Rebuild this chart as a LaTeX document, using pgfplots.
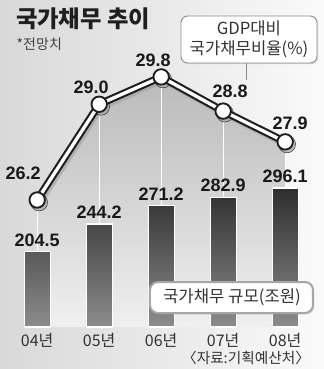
\documentclass[border=0pt]{standalone}
\usepackage{fontspec}
\setmainfont{Noto Sans CJK KR}
\newfontfamily\numfont{Liberation Sans}
\usepackage{pgfplots}
\usepackage{pgfplotstable}
\pgfplotsset{compat=1.18}
\usetikzlibrary{shadows}

\pgfplotstableread{
x v
0 204.5
1 244.2
2 271.2
3 282.9
4 296.1
}\debt

\pgfplotstableread{
x r dx dy
0 26.2 -10.5 20
1 29.0 -6 12.75
2 29.8 -6 12.75
3 28.8 5.25 15
4 27.9 3.75 14.25
}\ratio

\pgfplotsset{lineaxis/.style={at={(0,0)}, anchor=north west, scale only axis,
  width=243pt, height=245.25pt,
  xmin=-0.6, xmax=4.626, ymin=22.484, ymax=32.05,
  axis lines=none,
  /pgf/number format/fixed, /pgf/number format/fixed zerofill,
  /pgf/number format/precision=1, /pgf/number format/assume math mode=true}}

\begin{document}
\begin{tikzpicture}
\fill[left color=black!15, right color=black!2] (0,0) rectangle (243pt,-276.75pt);
\path[use as bounding box] (0,0) rectangle (243pt,-276.75pt);

\begin{axis}[lineaxis]
\addplot[top color=black!27, bottom color=black!6, draw=none]
  table[x=x,y=r]{\ratio} -- (axis cs:4,22.484) -- (axis cs:0,22.484) -- cycle;
\addplot[ycomb, draw=white, line width=0.9pt] table[x=x,y=r]{\ratio};
\end{axis}

% shadow of the line
\begin{axis}[lineaxis, at={(1.4pt,-1.8pt)}]
\addplot[draw=black!35, line width=5.6pt, line join=round, opacity=0.7] table[x=x,y=r]{\ratio};
\addplot[only marks, mark=*, mark size=6.4pt, mark options={fill=black!35, draw=none, opacity=0.7}] table[x=x,y=r]{\ratio};
\end{axis}

\begin{axis}[lineaxis]
\addplot[draw=black!88, line width=1.6pt, double=white, double distance=2.5pt, line join=round] table[x=x,y=r]{\ratio};
\addplot[only marks, mark=*, mark size=5.8pt,
  mark options={fill=white, draw=black!88, line width=1.4pt},
  visualization depends on={\thisrow{dx} \as \dx},
  visualization depends on={\thisrow{dy} \as \dy},
  nodes near coords,
  nodes near coords style={anchor=center, xshift=\dx pt, yshift=\dy pt,
    font=\numfont\bfseries\fontsize{13.5}{14}\selectfont, text=black!90}]
  table[x=x,y=r]{\ratio};
\end{axis}

\begin{axis}[at={(0,0)}, anchor=north west, scale only axis,
  width=243pt, height=245.25pt,
  xmin=-0.6, xmax=4.626, ymin=0, ymax=471.2,
  axis line style={draw=none}, tick style={draw=none},
  ytick=\empty, xtick=data,
  xticklabels={04년,05년,06년,07년,08년},
  major tick length=0pt,
  xticklabel style={anchor=base, yshift=-14.5pt, font=\fontsize{12}{13}\selectfont, text=black!80},
  ybar, bar width=19.5pt,
  /pgf/number format/fixed, /pgf/number format/fixed zerofill,
  /pgf/number format/precision=1, /pgf/number format/assume math mode=true]
\addplot[ybar, bar shift=0pt, top color=black!82, bottom color=black!45, draw=white, line width=0.9pt,
  point meta=explicit, nodes near coords,
  nodes near coords style={font=\numfont\bfseries\fontsize{13.5}{14}\selectfont, text=black!90}]
  table[x=x, y expr=\thisrow{v}-95.8, meta=v]{\debt};
\end{axis}

% title
\node[anchor=west, font=\bfseries\fontsize{17.5}{19}\selectfont, text=black!88] at (8.5pt,-14.25pt) {국가채무 추이};
\node[anchor=west, font=\fontsize{10.5}{12}\selectfont, text=black!75] at (9pt,-33pt) {*전망치};

% ratio legend
\draw[black!45, line width=0.6pt] (184.5pt,-47.25pt) -- (184.5pt,-60pt);
\draw[fill=white, draw=black!45, line width=0.7pt, rounded corners=5pt,
  drop shadow={shadow xshift=0.8pt, shadow yshift=-0.8pt, opacity=0.25}]
  (135.75pt,-12pt) rectangle (237.75pt,-47.25pt);
\node[font=\fontsize{12.5}{13}\selectfont, text=black!80] at (186.75pt,-21pt) {GDP대비};
\node[font=\fontsize{12.5}{13}\selectfont, text=black!80] at (186.75pt,-36.75pt) {국가채무비율(\%)};

% debt legend
\draw[fill=white, draw=black!35, line width=1.5pt, rounded corners=6pt,
  drop shadow={shadow xshift=1pt, shadow yshift=-1pt, opacity=0.3}]
  (112.5pt,-211.5pt) rectangle (234.75pt,-234.75pt);
\node[font=\fontsize{12.5}{13}\selectfont, text=black!80] at (174pt,-222.75pt) {국가채무 규모(조원)};

% source
\node[anchor=east, font=\fontsize{11}{12}\selectfont, text=black!80] at (236pt,-268.5pt) {〈자료:기획예산처〉};
\end{tikzpicture}
\end{document}
